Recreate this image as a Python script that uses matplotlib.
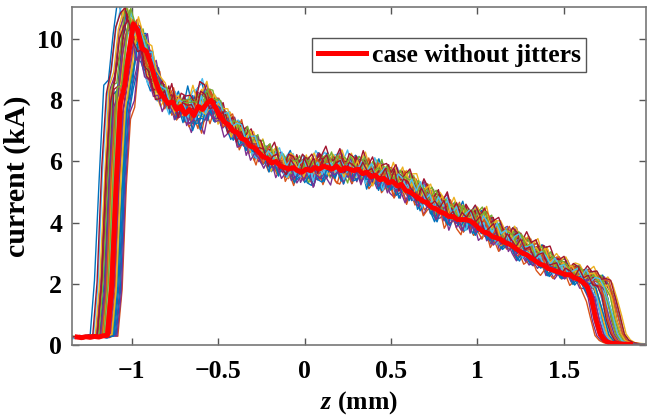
import numpy as np
import matplotlib
matplotlib.use("Agg")
import matplotlib.pyplot as plt

# ---------------- data ----------------
z_start, z_step, n_pts = -1.34, 0.025, 133          # sample grid of the profile (mm)
current_nominal = [                                  # kA, case without jitters
    0.22, 0.26, 0.24, 0.27, 0.25, 0.28, 0.26, 0.30,
    0.32, 1.9, 5.2, 7.9, 8.5, 9.6,
    10.5, 10.3, 9.7, 9.6, 9.2, 8.7, 8.3, 8.1, 7.9, 7.95,
    7.7, 7.8, 7.55, 7.7, 7.5, 7.8, 7.7, 7.9, 8.0, 7.75,
    7.5, 7.3, 7.2, 7.0, 6.95, 6.75, 6.7, 6.5, 6.45, 6.3,
    6.15, 6.1, 5.95, 6.0, 5.85, 5.8, 5.75, 5.8, 5.7, 5.65,
    5.75, 5.7, 5.8, 5.75, 5.85, 5.8, 5.75, 5.85, 5.7, 5.8,
    5.75, 5.7, 5.75, 5.6, 5.65, 5.5, 5.55, 5.4, 5.45, 5.3,
    5.35, 5.2, 5.25, 5.05, 5.0, 4.9, 4.8, 4.7, 4.65, 4.5,
    4.45, 4.35, 4.3, 4.2, 4.2, 4.1, 4.1, 4.1, 4.05, 3.95,
    3.8, 3.7, 3.65, 3.55, 3.5, 3.45, 3.35, 3.3, 3.2, 3.1,
    3.0, 2.95, 2.85, 2.75, 2.65, 2.6, 2.5, 2.45, 2.4, 2.35,
    2.3, 2.3, 2.2, 2.15, 2.05, 1.9, 1.5, 0.85, 0.35, 0.15,
    0.08, 0.05, 0.04, 0.03, 0.03, 0.02, 0.02, 0.01, 0.01,
]

# jittered cases: shift of the head and of the tail (mm), and charge scaling
head_shift = [-0.10, 0.02, -0.06, 0.045, -0.03, -0.08, 0.01, -0.045, 0.06, -0.015,
              -0.065, 0.03, -0.02, -0.04, 0.05, -0.005, -0.07, 0.015, -0.035, 0.0,
              -0.055, 0.04, -0.01, -0.025, 0.055, -0.05, 0.005, -0.085, 0.035, -0.03,
              0.025, -0.04, -0.02, 0.0, -0.06]
tail_shift = [0.12, 0.04, 0.09, -0.02, 0.14, 0.06, 0.10, 0.03, -0.03, 0.11,
              0.13, 0.05, 0.08, 0.12, 0.0, 0.07, 0.15, 0.02, 0.10, 0.06,
              0.09, -0.01, 0.13, 0.04, 0.08, 0.11, 0.03, 0.14, 0.05, 0.07,
              0.12, 0.02, 0.09, 0.10, 0.06]
charge_scale = [1.05, 0.97, 1.03, 0.96, 1.02, 1.06, 0.99, 1.01, 0.95, 1.0,
                1.04, 0.98, 1.02, 1.03, 0.96, 1.0, 1.05, 0.98, 1.01, 0.99,
                1.03, 0.97, 1.02, 1.0, 0.96, 1.04, 0.99, 1.06, 0.97, 1.01,
                1.0, 0.98, 1.03, 1.01, 1.02]
ripple = [0.18, -0.22, 0.05, 0.27, -0.12, -0.3, 0.14, 0.02, -0.18, 0.25,
          -0.05, 0.2, -0.26, 0.08, 0.3, -0.15, -0.02, 0.22, -0.28, 0.11,
          0.04, -0.2, 0.26, -0.08, 0.16, -0.24, 0.0, 0.21, -0.13, 0.28,
          -0.27, 0.07, 0.19, -0.1, -0.29, 0.24, 0.03, -0.17, 0.12, -0.06,
          0.29, -0.21, 0.09, -0.25, 0.15, -0.01, 0.23, -0.11]

x_ticks = [-1, -0.5, 0, 0.5, 1, 1.5]
y_ticks = [0, 2, 4, 6, 8, 10]
legend_label = "case without jitters"

# ---------------- plotting ----------------
plt.rcParams["font.family"] = ["Liberation Serif", "DejaVu Serif"]
plt.rcParams["font.weight"] = "bold"
plt.rcParams["mathtext.fontset"] = "custom"
plt.rcParams["mathtext.it"] = "Liberation Serif:italic:bold"
plt.rcParams["mathtext.rm"] = "Liberation Serif:bold"

matlab_colors = ["#0072BD", "#D95319", "#EDB120", "#7E2F8E", "#77AC30", "#4DBEEE", "#A2142F"]
FS = 18.5

fig = plt.figure(figsize=(6.47, 4.16), dpi=100)
ax = fig.add_axes([72 / 647, 1 - 345 / 416, 574 / 647, 338 / 416])

z = z_start + z_step * np.arange(n_pts)
I0 = np.array(current_nominal)
z_head, z_tail = -1.115, 1.685
frac = np.clip((z - z_head) / (z_tail - z_head), 0, 1)
rip = np.resize(np.array(ripple), n_pts + 60)
for j, (a, t, s) in enumerate(zip(head_shift, tail_shift, charge_scale)):
    zj = z + a + (t - a) * frac
    r = np.roll(rip, j * 7)[:n_pts] * np.clip(I0 / 4, 0, 1)
    Ij = I0 * s + r
    ax.plot(zj, Ij, color=matlab_colors[j % 7], lw=1.0)

ax.plot(z[1:-3], I0[1:-3], color="#FF0000", lw=3.6, label=legend_label)

ax.set_xlim(-1.345, 1.975)
ax.set_ylim(0, 11.05)
ax.set_xticks(x_ticks)
ax.set_xticklabels([("\u2212" + f"{abs(v):g}") if v < 0 else f"{v:g}" for v in x_ticks])
ax.set_yticks(y_ticks)
ax.tick_params(direction="in", top=True, right=True, length=5, width=1.0,
               labelsize=FS, color="#555555")
ax.tick_params(axis="x", pad=11)
ax.tick_params(axis="y", pad=7)
for lab in ax.get_xticklabels() + ax.get_yticklabels():
    lab.set_fontweight("bold")
for sp in ax.spines.values():
    sp.set_color("#777777")
    sp.set_linewidth(1.2)

ax.set_xlabel(r"$z$ (mm)", fontsize=FS, fontweight="bold", labelpad=4)
ax.set_ylabel("current (kA)", fontsize=21.5, fontweight="bold", labelpad=4)

leg = ax.legend(loc="upper left", bbox_to_anchor=(0.418, 0.908), borderaxespad=0,
                fontsize=FS, handlelength=1.9, handletextpad=0.2, borderpad=0.22,
                fancybox=False, framealpha=1)
leg.get_frame().set_edgecolor("#555555")
leg.get_frame().set_linewidth(1.0)
for t in leg.get_texts():
    t.set_fontweight("bold")

fig.savefig("out.png", dpi=100)
